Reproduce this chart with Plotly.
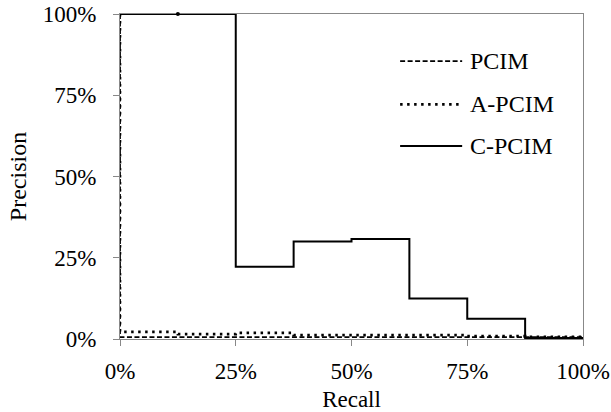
import plotly.graph_objects as go

# Recall breakpoints (fraction)
recall = [0, 0.125, 0.25, 0.375, 0.5, 0.625, 0.75, 0.875, 1.0]
recall_start = [0, 0, 0.125, 0.25, 0.375, 0.5, 0.625, 0.75, 0.875, 1.0]

# Precision values held over each recall interval
pcim = [1.0, 0.006, 0.006, 0.006, 0.006, 0.006, 0.006, 0.006, 0.006, 0.006]
a_pcim = [1.0, 0.022, 0.015, 0.019, 0.012, 0.012, 0.012, 0.009, 0.007, 0.007]
c_pcim = [1.0, 1.0, 0.222, 0.30, 0.308, 0.125, 0.0625, 0.003, 0.003]

marker_x = [0.125]
marker_y = [1.0]

series_names = ["PCIM", "A-PCIM", "C-PCIM"]
series_dash = ["5px,2.5px", "2.5px,4.5px", "solid"]
series_width = [1.8, 2.6, 2.0]

FONT = "Liberation Serif"

fig = go.Figure()
fig.add_trace(go.Scatter(x=recall_start, y=pcim, mode="lines", line_shape="hv", name=series_names[0],
                         line=dict(color="black", width=series_width[0], dash=series_dash[0]), showlegend=False))
fig.add_trace(go.Scatter(x=recall_start, y=a_pcim, mode="lines", line_shape="hv", name=series_names[1],
                         line=dict(color="black", width=series_width[1], dash=series_dash[1]), showlegend=False))
fig.add_trace(go.Scatter(x=recall, y=c_pcim, mode="lines", line_shape="hv", name=series_names[2],
                         line=dict(color="black", width=series_width[2], dash=series_dash[2]), showlegend=False))
fig.add_trace(go.Scatter(x=marker_x, y=marker_y, mode="markers", marker=dict(color="black", size=4),
                         showlegend=False, cliponaxis=False, hoverinfo="skip"))

# Manual legend
leg_y = [0.855, 0.722, 0.594]
for name, dash, w, yy in zip(series_names, series_dash, series_width, leg_y):
    fig.add_shape(type="line", xref="paper", yref="paper", x0=0.605, x1=0.739, y0=yy, y1=yy,
                  line=dict(color="black", width=w, dash=dash))
    fig.add_annotation(xref="paper", yref="paper", x=0.752, y=yy, text=name, showarrow=False,
                       xanchor="left", yanchor="middle", font=dict(family=FONT, size=24, color="black"))

axis_common = dict(showgrid=False, zeroline=False, showline=True, linecolor="#888888", linewidth=1,
                   mirror=True, ticks="outside", ticklen=6, tickcolor="#888888", tickwidth=1,
                   tickfont=dict(family=FONT, size=23, color="black"), tickformat=".0%",
                   range=[0, 1], dtick=0.25, tick0=0, layer="below traces", automargin=False)

fig.update_layout(
    width=611, height=412,
    margin=dict(l=120, r=28, t=14, b=73),
    paper_bgcolor="white", plot_bgcolor="white",
    xaxis=dict(**axis_common, title=dict(text="Recall", font=dict(family=FONT, size=23, color="black"), standoff=9),
               ticklabelstandoff=5),
    yaxis=dict(**axis_common, title=dict(text="Precision", font=dict(family=FONT, size=24, color="black"), standoff=9),
               ticklabelstandoff=12),
)

fig.write_html("out.html")
